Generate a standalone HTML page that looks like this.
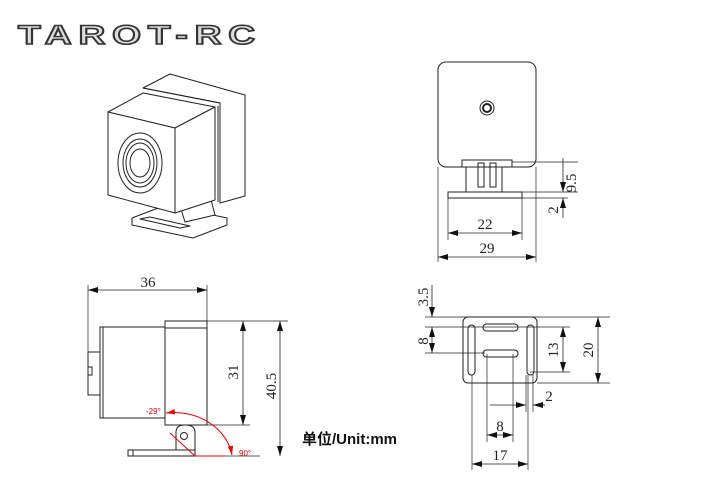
<!DOCTYPE html>
<html><head><meta charset="utf-8"><style>
html,body{margin:0;padding:0;background:#fff;width:720px;height:480px;overflow:hidden}
svg{display:block}
.t{font-family:"Liberation Serif",serif;font-size:15px;fill:#222}
</style></head><body>
<svg width="720" height="480" viewBox="0 0 720 480" xmlns="http://www.w3.org/2000/svg">
<defs>
<marker id="a" viewBox="0 0 10 6" refX="10" refY="3" markerWidth="10" markerHeight="6" orient="auto-start-reverse" markerUnits="userSpaceOnUse"><path d="M0,0L10,3L0,6z" fill="#111"/></marker>
<marker id="r" viewBox="0 0 10 6" refX="10" refY="3" markerWidth="9" markerHeight="6" orient="auto-start-reverse" markerUnits="userSpaceOnUse"><path d="M0,0L10,3L0,6z" fill="#e00"/></marker>
</defs>
<!-- logo -->
<text x="18" y="44" font-family="Liberation Sans,sans-serif" font-size="27" font-weight="bold" letter-spacing="5" fill="#ddd" stroke="#333" stroke-width="1.6" textLength="244" lengthAdjust="spacingAndGlyphs">TAROT-RC</text>

<!-- iso camera -->
<g fill="#fff" stroke="#222" stroke-width="1" stroke-linejoin="round">
<polygon points="132,218 132,225 193,238 227,225 227,218 166,205"/>
<polygon points="140,219 180,228 190,226 150,217" fill="none"/>
<polygon points="180,206 210,196 215,215 185,222"/>
<polygon points="143,88 170,74 245,95 245,196 220,203 220,103"/>
<polyline points="220,103 143,88" fill="none"/>
<polygon points="108,112 143,93 215,107 175,128"/>
<polygon points="108,112 175,128 175,213 108,195"/>
<polygon points="175,128 215,107 215,200 175,213"/>
<line x1="218" y1="106" x2="218" y2="202"/>
<ellipse cx="140" cy="163" rx="22" ry="30"/>
<ellipse cx="140" cy="163" rx="17" ry="24"/>
<ellipse cx="140" cy="163" rx="14" ry="20"/>
<ellipse cx="140" cy="163" rx="10" ry="14"/>
</g>

<!-- top right view -->
<g fill="none" stroke="#222" stroke-width="1">
<rect x="438" y="62" width="98" height="105" rx="8" fill="#fff"/>
<circle cx="487" cy="108" r="7"/><circle cx="487" cy="108" r="4" stroke-width="2"/>
<polyline points="462,167 462,160 512,160 512,167"/>
<rect x="466" y="167" width="36" height="25"/>
<rect x="478" y="163" width="6" height="24"/><rect x="490" y="163" width="6" height="24"/>
<rect x="448" y="192" width="74" height="6"/>
<line x1="438" y1="167" x2="438" y2="262" stroke-width=".7"/>
<line x1="536" y1="167" x2="536" y2="262" stroke-width=".7"/>
<line x1="448" y1="198" x2="448" y2="240" stroke-width=".7"/>
<line x1="522" y1="198" x2="522" y2="240" stroke-width=".7"/>
<line x1="512" y1="162" x2="578" y2="162" stroke-width=".7"/>
<line x1="522" y1="192" x2="578" y2="192" stroke-width=".7"/>
<line x1="522" y1="198" x2="568" y2="198" stroke-width=".7"/>
<line x1="563" y1="158" x2="563" y2="192" marker-end="url(#a)" stroke-width=".8"/>
<line x1="563" y1="218" x2="563" y2="198" marker-end="url(#a)" stroke-width=".8"/>
<line x1="448" y1="233" x2="522" y2="233" marker-start="url(#a)" marker-end="url(#a)" stroke-width=".8"/>
<line x1="438" y1="257" x2="536" y2="257" marker-start="url(#a)" marker-end="url(#a)" stroke-width=".8"/>
</g>
<text class="t" x="485" y="229" text-anchor="middle">22</text>
<text class="t" x="487" y="253" text-anchor="middle">29</text>
<text class="t" transform="translate(576,183) rotate(-90)" text-anchor="middle">9.5</text>
<text class="t" transform="translate(558,210) rotate(-90)" text-anchor="middle">2</text>

<!-- side view -->
<g fill="none" stroke="#222" stroke-width="1">
<rect x="100" y="327" width="65" height="91" fill="#fff"/>
<line x1="103" y1="327" x2="103" y2="418"/>
<rect x="88" y="352" width="12" height="43"/><rect x="88" y="367" width="4" height="8"/>
<rect x="165" y="321" width="42" height="104" fill="#fff"/>
<line x1="165" y1="328" x2="207" y2="328"/>
<path d="M176,450 L176,432 Q176,425 185,425 Q195,425 195,432 L195,450" fill="#fff"/>
<circle cx="184" cy="436" r="3.5"/>
<rect x="128" y="450" width="67" height="6" fill="#fff"/>
<line x1="133" y1="450" x2="133" y2="456"/>
<line x1="195" y1="456" x2="260" y2="456" stroke-width=".7"/>
<line x1="88" y1="285" x2="88" y2="352" stroke-width=".7"/>
<line x1="207" y1="285" x2="207" y2="321" stroke-width=".7"/>
<line x1="88" y1="290" x2="207" y2="290" marker-start="url(#a)" marker-end="url(#a)" stroke-width=".8"/>
<line x1="207" y1="321" x2="288" y2="321" stroke-width=".7"/>
<line x1="207" y1="425" x2="250" y2="425" stroke-width=".7"/>
<line x1="243" y1="321" x2="243" y2="425" marker-start="url(#a)" marker-end="url(#a)" stroke-width=".8"/>
<line x1="280" y1="321" x2="280" y2="456" marker-start="url(#a)" marker-end="url(#a)" stroke-width=".8"/>
</g>
<g fill="none" stroke="#e00" stroke-width="1">
<path d="M166,413 A58,50 0 0 1 232,455" marker-start="url(#r)" marker-end="url(#r)"/>
<line x1="170" y1="433" x2="195" y2="456"/>
<line x1="195" y1="456" x2="225" y2="456"/>
</g>
<text x="146" y="414" font-family="Liberation Sans,sans-serif" font-size="8" fill="#e00">-29°</text>
<text x="239" y="456" font-family="Liberation Sans,sans-serif" font-size="8" fill="#e00">90°</text>
<text class="t" x="148" y="287" text-anchor="middle">36</text>
<text class="t" transform="translate(238,372) rotate(-90)" text-anchor="middle">31</text>
<text class="t" transform="translate(276,386) rotate(-90)" text-anchor="middle">40.5</text>
<text x="302" y="444" font-family="Liberation Sans,'Noto Sans CJK SC',sans-serif" font-size="15" font-weight="bold" fill="#111">单位/Unit:mm</text>

<!-- bracket plate view -->
<g fill="none" stroke="#222" stroke-width="1">
<rect x="463" y="317" width="74" height="66" rx="5" fill="#fff"/>
<rect x="468" y="325" width="7" height="50" rx="3.5"/>
<rect x="527" y="325" width="7" height="50" rx="3.5"/>
<rect x="483" y="324" width="35" height="7" rx="3.5"/>
<rect x="483" y="350" width="35" height="7" rx="3.5"/>
<line x1="425" y1="317" x2="610" y2="317" stroke-width=".7"/>
<line x1="425" y1="327" x2="570" y2="327" stroke-width=".7"/>
<line x1="425" y1="353" x2="485" y2="353" stroke-width=".7"/>
<line x1="530" y1="372" x2="570" y2="372" stroke-width=".7"/>
<line x1="537" y1="383" x2="610" y2="383" stroke-width=".7"/>
<line x1="432" y1="285" x2="432" y2="317" marker-end="url(#a)" stroke-width=".8"/>
<line x1="432" y1="327" x2="432" y2="353" marker-start="url(#a)" marker-end="url(#a)" stroke-width=".8"/>
<line x1="563" y1="327" x2="563" y2="372" marker-start="url(#a)" marker-end="url(#a)" stroke-width=".8"/>
<line x1="598" y1="317" x2="598" y2="383" marker-start="url(#a)" marker-end="url(#a)" stroke-width=".8"/>
<line x1="472" y1="375" x2="472" y2="470" stroke-width=".7"/>
<line x1="487" y1="354" x2="487" y2="442" stroke-width=".7"/>
<line x1="513" y1="354" x2="513" y2="442" stroke-width=".7"/>
<line x1="526" y1="375" x2="526" y2="412" stroke-width=".7"/>
<line x1="533" y1="375" x2="533" y2="412" stroke-width=".7"/>
<line x1="528" y1="375" x2="528" y2="470" stroke-width=".7"/>
<line x1="490" y1="405" x2="526" y2="405" marker-end="url(#a)" stroke-width=".8"/>
<line x1="545" y1="405" x2="533" y2="405" marker-end="url(#a)" stroke-width=".8"/>
<line x1="487" y1="435" x2="513" y2="435" marker-start="url(#a)" marker-end="url(#a)" stroke-width=".8"/>
<line x1="472" y1="464" x2="528" y2="464" marker-start="url(#a)" marker-end="url(#a)" stroke-width=".8"/>
</g>
<text class="t" transform="translate(428,297) rotate(-90)" text-anchor="middle">3.5</text>
<text class="t" transform="translate(428,341) rotate(-90)" text-anchor="middle">8</text>
<text class="t" transform="translate(558,350) rotate(-90)" text-anchor="middle">13</text>
<text class="t" transform="translate(593,350) rotate(-90)" text-anchor="middle">20</text>
<text class="t" x="549" y="401" text-anchor="middle">2</text>
<text class="t" x="500" y="431" text-anchor="middle">8</text>
<text class="t" x="500" y="460" text-anchor="middle">17</text>
</svg>
</body></html>
